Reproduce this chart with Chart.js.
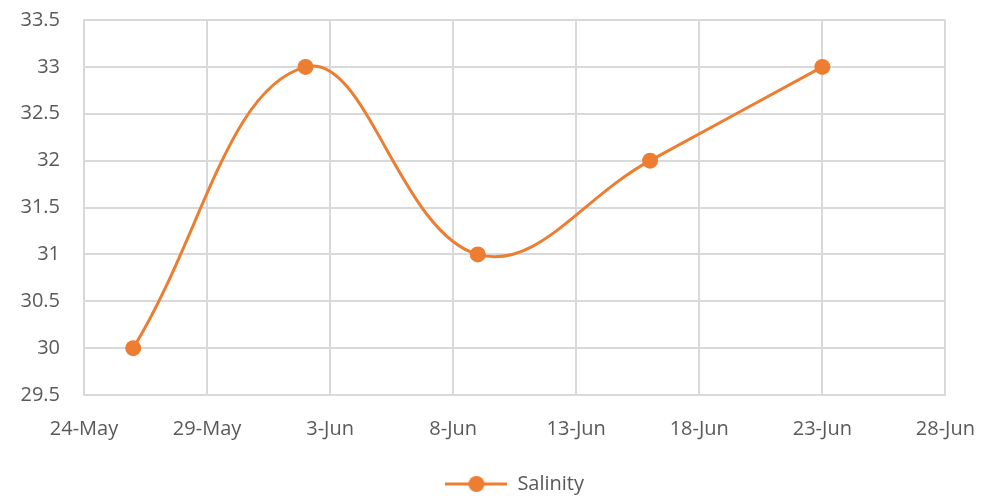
<!DOCTYPE html>
<html>
<head>
<meta charset="utf-8">
<script src="https://cdn.jsdelivr.net/npm/chart.js@4/dist/chart.umd.min.js"></script>
<style>
  html, body { margin: 0; padding: 0; background: #fff; }
  #wrap { width: 985px; height: 496px; }
</style>
</head>
<body>
<div id="wrap"><canvas id="chart" width="985" height="496"></canvas></div>
<script>
  // Data
  const dates = ['2023-05-26', '2023-06-02', '2023-06-09', '2023-06-16', '2023-06-23'];
  const salinity = [30, 33, 31, 32, 33];
  const xTickLabels = ['24-May', '29-May', '3-Jun', '8-Jun', '13-Jun', '18-Jun', '23-Jun', '28-Jun'];
  const yTicks = [29.5, 30, 30.5, 31, 31.5, 32, 32.5, 33, 33.5];

  const startDate = Date.UTC(2023, 4, 24);
  const DAY = 86400000;
  const toDay = s => (Date.parse(s + 'T00:00:00Z') - startDate) / DAY;

  const orange = '#ED7D31';
  const gridColor = '#D9D9D9';
  const textColor = '#595959';
  const font = { family: 'Open Sans', size: 20 };

  // Legend marker: line with circle, like Excel
  const marker = document.createElement('canvas');
  marker.width = 62; marker.height = 18;
  const mc = marker.getContext('2d');
  mc.strokeStyle = orange; mc.lineWidth = 3;
  mc.beginPath(); mc.moveTo(0, 9); mc.lineTo(62, 9); mc.stroke();
  mc.fillStyle = orange;
  mc.beginPath(); mc.arc(31, 9, 8, 0, Math.PI * 2); mc.fill();

  new Chart(document.getElementById('chart').getContext('2d'), {
    type: 'line',
    data: {
      datasets: [{
        label: 'Salinity',
        data: dates.map((d, i) => ({ x: toDay(d), y: salinity[i] })),
        borderColor: orange,
        backgroundColor: orange,
        borderWidth: 3,
        pointRadius: 8,
        pointHoverRadius: 8,
        pointBorderWidth: 0,
        tension: 0.4,
        pointStyle: 'circle',
      }]
    },
    options: {
      responsive: false,
      animation: false,
      layout: { padding: { top: 20, right: 39, left: 0, bottom: -8 } },
      scales: {
        x: {
          type: 'linear',
          min: 0,
          max: 35,
          border: { display: true, color: gridColor, width: 2 },
          grid: { color: gridColor, lineWidth: 2, drawTicks: true, tickLength: 12, tickColor: 'transparent' },
          afterFit: axis => { axis.height = 59; },
          ticks: {
            stepSize: 5,
            padding: 10,
            color: textColor,
            font: font,
            maxRotation: 0,
            callback: v => xTickLabels[v / 5]
          }
        },
        y: {
          min: 29.5,
          max: 33.5,
          border: { display: true, color: gridColor, width: 2 },
          grid: { color: gridColor, lineWidth: 2, drawTicks: true, tickLength: 22, tickColor: 'transparent' },
          afterBuildTicks: axis => { axis.ticks = yTicks.map(v => ({ value: v })); },
          afterFit: axis => { axis.width = 84; },
          ticks: {
            padding: 2,
            color: textColor,
            font: font,
            callback: v => String(v)
          }
        }
      },
      plugins: {
        legend: {
          position: 'bottom',
          fullSize: false,
          labels: {
            usePointStyle: true,
            pointStyle: marker,
            pointStyleWidth: 62,
            color: textColor,
            font: font,
            padding: 20,
            generateLabels: chart => [{
              text: 'Salinity',
              pointStyle: marker,
              fillStyle: orange,
              strokeStyle: orange,
              lineWidth: 0,
              datasetIndex: 0,
              fontColor: textColor
            }]
          }
        },
        tooltip: { enabled: false }
      }
    }
  });
</script>
</body>
</html>
